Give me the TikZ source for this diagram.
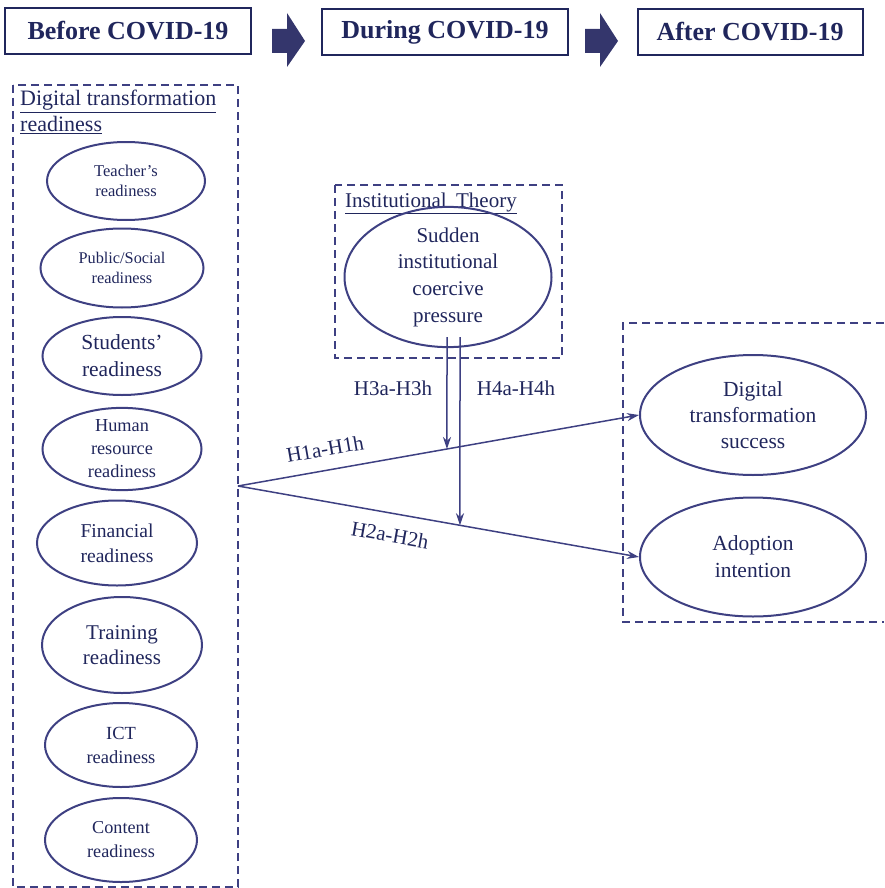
\documentclass[tikz,border=0pt]{standalone}
\usepackage{fontspec}
\setmainfont{Liberation Serif}
\usetikzlibrary{shapes.geometric,arrows.meta}
\definecolor{navy}{RGB}{32,38,92}
\definecolor{navyline}{RGB}{62,64,130}
\definecolor{navyfill}{RGB}{52,54,108}
\newcommand{\setfs}[2]{\fontsize{#1}{#2}\selectfont}
\tikzset{
    stagebox/.style={draw=navy, line width=2pt, minimum height=46pt, inner sep=0pt,
        text=navy, font=\setfs{26}{30}\bfseries},
    factor/.style={ellipse, draw=navyline, line width=2pt, inner sep=0pt,
        align=center, text=navy},
    groupbox/.style={draw=navyline, line width=1.7pt, dash pattern=on 8pt off 5pt},
    grouptitle/.style={inner sep=0pt, align=left, text=navy},
    hyp/.style={draw=navyline, line width=1.5pt, -{Stealth[length=12pt,width=8pt]}},
    hyplabel/.style={inner sep=0pt, text=navy, font=\setfs{21}{24}},
}
\begin{document}
\begin{tikzpicture}[x=1pt, y=-1pt]
    \useasboundingbox (0,0) rectangle (884,888);

    %stages
    \node[stagebox, minimum width=246pt] (before) at (128,31) {Before COVID-19};
    \node[stagebox, minimum width=246pt] (during) at (445,32) {During COVID-19};
    \node[stagebox, minimum width=225pt] (after) at (750,32) {After COVID-19};
    \foreach \ax in {272, 585} {
        \fill[navyfill]
            (\ax,29) -- (\ax+15,29) -- (\ax+15,13) -- (\ax+33,41)
            -- (\ax+15,67) -- (\ax+15,53) -- (\ax,53) -- cycle;
    }

    %readiness factors
    \draw[groupbox] (13,85) rectangle (238,887);
    \node[grouptitle, anchor=north west, font=\setfs{22}{26}] (dtrtitle) at (20,90)
        {\underline{Digital transformation}\\\underline{readiness}};
    \node[factor, minimum width=158pt, minimum height=78pt, font=\setfs{16.5}{20}]
        (teacher) at (126,181) {Teacher's\\readiness};
    \node[factor, minimum width=163pt, minimum height=79pt, font=\setfs{16.3}{20}]
        (public) at (122,268) {Public/Social\\readiness};
    \node[factor, minimum width=159pt, minimum height=78pt, font=\setfs{21.5}{27}]
        (students) at (122,356) {Students'\\readiness};
    \node[factor, minimum width=159pt, minimum height=82pt, font=\setfs{18.3}{23}]
        (human) at (122,449) {Human\\resource\\readiness};
    \node[factor, minimum width=160pt, minimum height=85pt, font=\setfs{19.6}{25}]
        (financial) at (117,543) {Financial\\readiness};
    \node[factor, minimum width=160pt, minimum height=96pt, font=\setfs{21}{25.5}]
        (training) at (122,645) {Training\\readiness};
    \node[factor, minimum width=152pt, minimum height=84pt, font=\setfs{18.5}{24}]
        (ict) at (121,745) {ICT\\readiness};
    \node[factor, minimum width=152pt, minimum height=84pt, font=\setfs{18.2}{24}]
        (content) at (121,840) {Content\\readiness};

    %institutional theory
    \draw[groupbox] (335,185) rectangle (562,358);
    \node[grouptitle, anchor=west, font=\setfs{21}{25}] (ittitle) at (345,203)
        {\underline{Institutional\hspace{0.45em}Theory}};
    \node[factor, minimum width=207pt, minimum height=122pt, font=\setfs{21}{26.7}]
        (pressure) at (448,277) {Sudden\\institutional\\coercive\\pressure};

    %outcomes
    \draw[groupbox] (884,323) -- (623,323) -- (623,622) -- (884,622);
    \node[factor, minimum width=226pt, minimum height=120pt, font=\setfs{21.5}{26}]
        (success) at (753,415) {Digital\\transformation\\success};
    \node[factor, minimum width=226pt, minimum height=119pt, font=\setfs{21.5}{27}]
        (adoption) at (753,557) {Adoption\\intention};

    %hypotheses
    \coordinate (src) at (238,486);
    \coordinate (dtsin) at (success.west);
    \coordinate (aiin) at (adoption.west);
    \coordinate (p3) at (447,337);
    \coordinate (q3) at (447,700);
    \coordinate (p4) at (460,337);
    \coordinate (q4) at (460,700);
    \draw[hyp] (src) -- (dtsin);
    \draw[hyp] (src) -- (aiin);
    \draw[hyp] (p3) -- (intersection of p3--q3 and src--dtsin);
    \draw[hyp] (p4) -- (intersection of p4--q4 and src--aiin);
    \node[hyplabel] (h3) at (393,388) {H3a-H3h};
    \node[hyplabel] (h4) at (516,388) {H4a-H4h};
    \node[hyplabel, rotate=10] (h1) at (325,449) {H1a-H1h};
    \node[hyplabel, rotate=-10] (h2) at (390,535) {H2a-H2h};
\end{tikzpicture}
\end{document}
